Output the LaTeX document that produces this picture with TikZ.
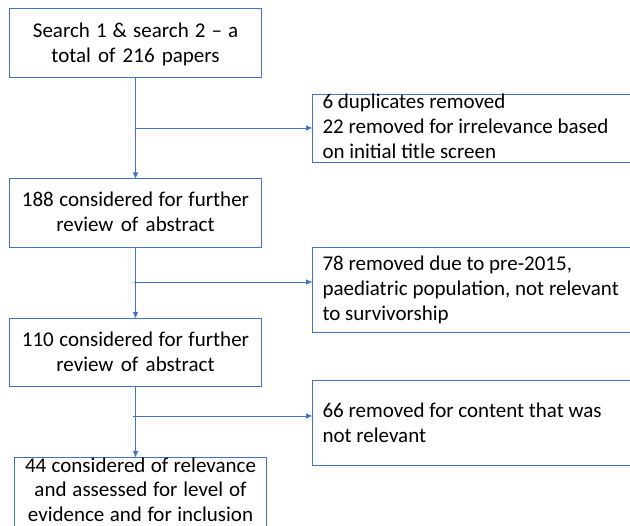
\documentclass[tikz,border=0pt]{standalone}
\usepackage{fontspec}
\setmainfont{Carlito}
\usepackage{xcolor}
\usetikzlibrary{arrows.meta,positioning}
\definecolor{edge}{HTML}{4472C4}
\newcommand\plainwords{\spaceskip=0pt\xspaceskip=0pt\relax}
\tikzset{
  >={Triangle[length=6pt,width=5pt]},
  flow/.style={->, draw=edge, line width=0.8pt},
}
\begin{document}
\begin{tikzpicture}[x=1pt, y=-1pt,
  stage/.style={draw=edge, line width=1pt, fill=white, anchor=north west, align=center,
                text width=252pt, inner xsep=0pt, inner ysep=0pt,
                font=\fontsize{21}{25.5}\selectfont, execute at begin node=\plainwords},
  drop/.style={draw=edge, line width=1pt, fill=white, anchor=north west, align=left,
               text width=330pt, inner xsep=10pt, inner ysep=0pt,
               font=\fontsize{21}{25}\selectfont, execute at begin node=\plainwords}]
  \useasboundingbox (0,0) rectangle (630,526);
  \clip (0,0) rectangle (630,526);
  \node[stage, text height=29pt, text depth=40pt] (b1) at (9,8) {Search 1 \& search 2 -- a\\total of 216 papers};
  \node[stage, text height=27.5pt, text depth=41pt] (b2) at (9,178.5) {188 considered for further\\review of abstract};
  \node[stage, text height=28pt, text depth=40pt] (b3) at (9,318) {110 considered for further\\review of abstract};
  \node[stage, text height=15pt, text depth=90pt, font=\fontsize{21}{24.5}\selectfont] (b4) at (14,457) {44 considered of relevance\\and assessed for level of\\evidence and for inclusion};
  \node[drop, text height=14pt, text depth=54pt] (r1) at (312,94) {6 duplicates removed\\22 removed for irrelevance based\\on initial title screen};
  \node[drop, text height=23pt, text depth=62pt] (r2) at (312,247) {78 removed due to pre-2015,\\paediatric population, not relevant\\to survivorship};
  \node[drop, text height=37pt, text depth=48pt] (r3) at (312,380) {66 removed for content that was\\not relevant};
  \coordinate (j1) at (135,128);
  \coordinate (j2) at (134,282);
  \coordinate (j3) at (133,416);
  \draw[flow] (b1) -- (b1 |- b2.north);
  \draw[flow] (b2) -- (b2 |- b3.north);
  \draw[flow] (b3) -- (b3 |- b4.north);
  \draw[flow] (j1) -- (j1 -| r1.west);
  \draw[flow] (j2) -- (j2 -| r2.west);
  \draw[flow] (j3) -- (j3 -| r3.west);
\end{tikzpicture}
\end{document}
